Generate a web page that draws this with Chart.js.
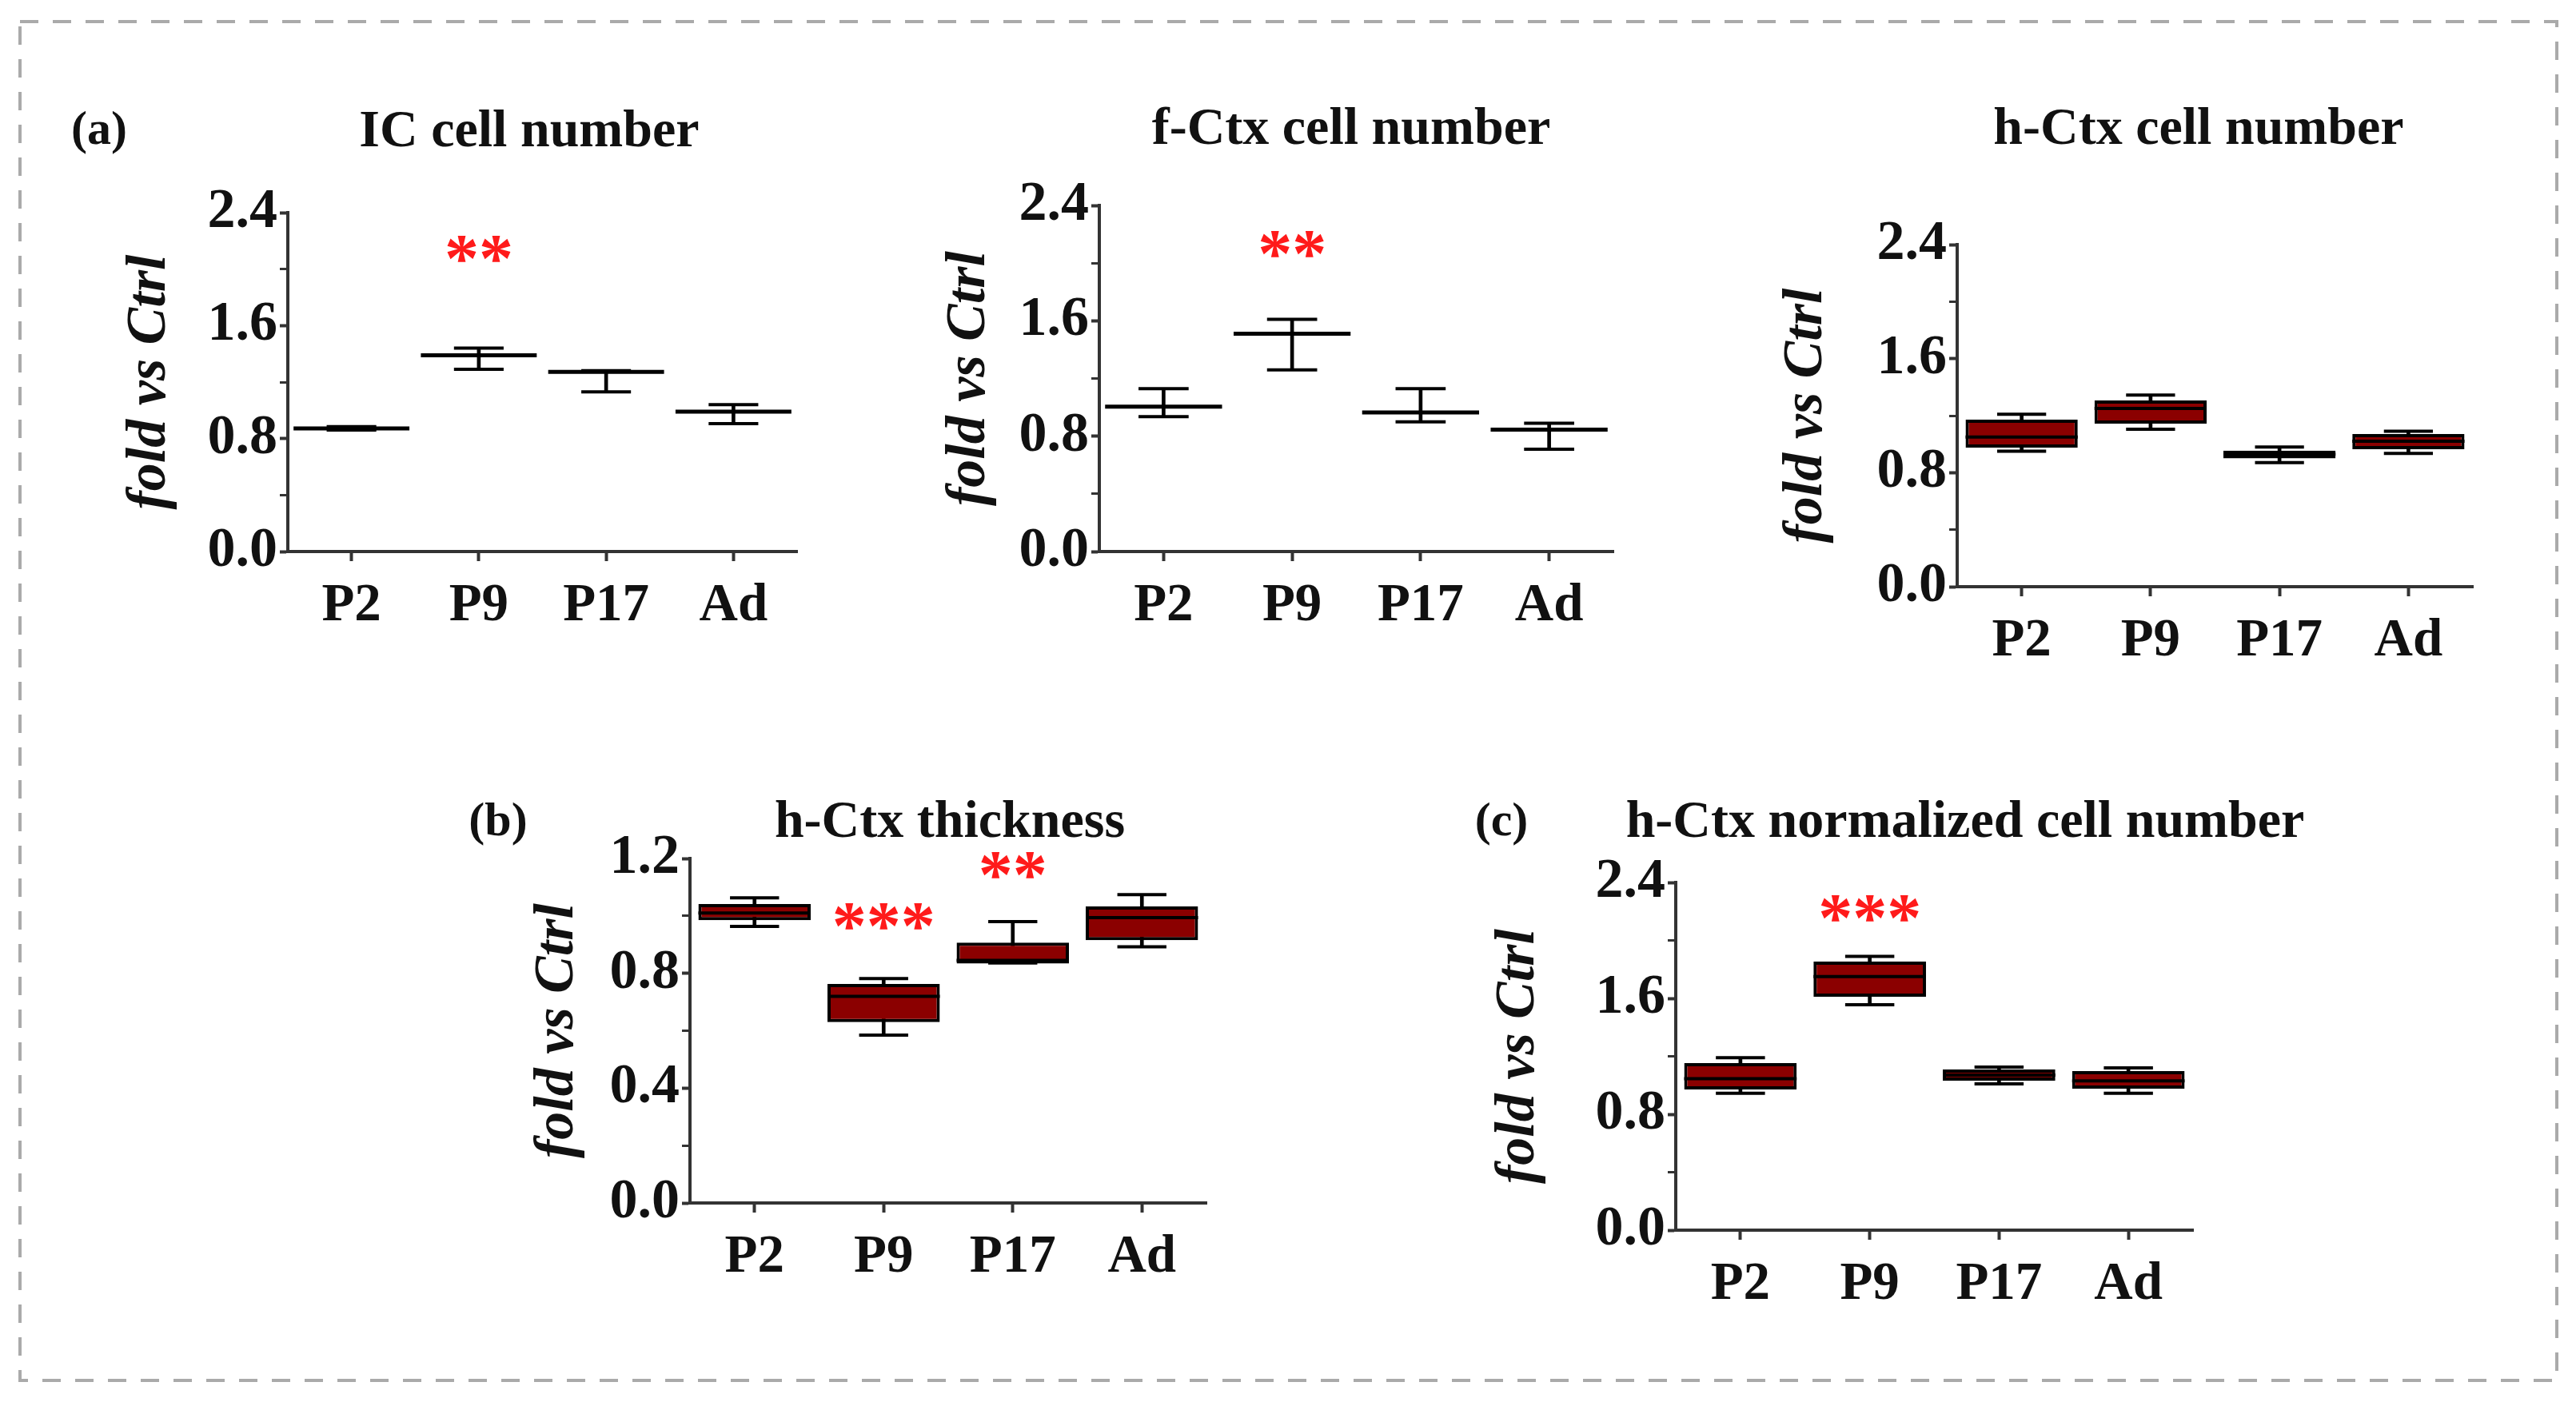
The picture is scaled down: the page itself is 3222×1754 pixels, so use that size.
<!DOCTYPE html>
<html>
<head>
<meta charset="utf-8">
<script src="https://cdn.jsdelivr.net/npm/chart.js@4.4.1/dist/chart.umd.min.js"></script>
<style>
  html, body { margin: 0; padding: 0; background: #fff; }
  body { width: 3222px; height: 1754px; position: relative; overflow: hidden;
         font-family: "Liberation Serif", "DejaVu Serif", serif; color: #111; }
  .lbl { position: absolute; transform: translate(-50%, -50%); font-weight: bold;
         white-space: nowrap; line-height: 1; }
  canvas { position: absolute; }
</style>
</head>
<body>
<svg width="3222" height="1754" style="position:absolute;left:0;top:0">
  <rect x="25" y="27" width="3173" height="1700" fill="none" stroke="#aaa" stroke-width="4" stroke-dasharray="23 18"/>
</svg>

<div class="lbl" style="left:124px;top:160px;font-size:60px">(a)</div>
<div class="lbl" style="left:662px;top:161px;font-size:66px">IC cell number</div>
<div class="lbl" style="left:1690px;top:158px;font-size:66px">f-Ctx cell number</div>
<div class="lbl" style="left:2750px;top:158px;font-size:66px">h-Ctx cell number</div>
<div class="lbl" style="left:623px;top:1025px;font-size:60px">(b)</div>
<div class="lbl" style="left:1188px;top:1025px;font-size:66px">h-Ctx thickness</div>
<div class="lbl" style="left:1878px;top:1025px;font-size:60px">(c)</div>
<div class="lbl" style="left:2458px;top:1025px;font-size:66px">h-Ctx normalized cell number</div>

<script>
const categories = ["P2", "P9", "P17", "Ad"];
const cellTickLabels = ["0.0", "0.8", "1.6", "2.4"];
const thickTickLabels = ["0.0", "0.4", "0.8", "1.2"];

// (a) IC cell number - mean with error bars
const icMean = [0.872, 1.39, 1.272, 0.99];
const icUpper = [0.885, 1.44, 1.28, 1.04];
const icLower = [0.86, 1.29, 1.13, 0.905];
const icStars = ["", "**", "", ""];
const icStarLevel = [null, 2.14, null, null];

// (a) f-Ctx cell number - mean with error bars
const fcMean = [1.005, 1.51, 0.965, 0.845];
const fcUpper = [1.13, 1.61, 1.13, 0.89];
const fcLower = [0.935, 1.26, 0.9, 0.71];
const fcStars = ["", "**", "", ""];
const fcStarLevel = [null, 2.13, null, null];

// (a) h-Ctx cell number - box plot
const hcMin = [0.95, 1.105, 0.87, 0.935];
const hcQ1 = [0.976, 1.144, 0.9, 0.965];
const hcMedian = [1.05, 1.25, 0.93, 1.02];
const hcQ3 = [1.172, 1.307, 0.955, 1.071];
const hcMax = [1.21, 1.345, 0.98, 1.09];

// (b) h-Ctx thickness - box plot
const thMin = [0.963, 0.585, 0.836, 0.892];
const thQ1 = [0.985, 0.63, 0.834, 0.915];
const thMedian = [1.01, 0.72, 0.845, 0.994];
const thQ3 = [1.041, 0.763, 0.907, 1.033];
const thMax = [1.063, 0.782, 0.98, 1.074];
const thStars = ["", "***", "**", ""];
const thStarLevel = [null, 0.997, 1.175, null];

// (c) h-Ctx normalized cell number - box plot
const ncMin = [0.945, 1.556, 1.01, 0.945];
const ncQ1 = [0.971, 1.611, 1.032, 0.977];
const ncMedian = [1.045, 1.75, 1.07, 1.03];
const ncQ3 = [1.153, 1.854, 1.109, 1.098];
const ncMax = [1.19, 1.89, 1.125, 1.12];
const ncStars = ["", "***", "", ""];
const ncStarLevel = [null, 2.22, null, null];

const FONT = '"Liberation Serif", "DejaVu Serif", serif';
const AXIS = "#333";
const BOX_RED = "#8b0000";
const TOP_PAD = 50;
const RIGHT_PAD = 20;
const X_H = 130;

// half a category width times frac, in pixels
const halfWidth = (frac) => (ctx) => {
  const a = ctx.chart.chartArea;
  return a ? ((a.right - a.left) / categories.length) * frac : 0;
};

const flatLine = (data, frac, width) => ({
  type: "line",
  data,
  showLine: false,
  pointStyle: "line",
  pointRadius: halfWidth(frac),
  pointHoverRadius: halfWidth(frac),
  pointBorderWidth: width,
  pointBorderColor: "#000",
  borderColor: "#000",
  order: 0,
});

const rangeBar = (lo, hi, extra) =>
  Object.assign(
    {
      type: "bar",
      data: lo.map((v, i) => [v, hi[i]]),
      grouped: false,
      categoryPercentage: 1,
      borderSkipped: false,
    },
    extra
  );

const starPlugin = (text, level) => ({
  id: "stars",
  afterDatasetsDraw(chart) {
    const { ctx, scales } = chart;
    ctx.save();
    ctx.fillStyle = "#ff1a1a";
    ctx.font = "bold 86px " + FONT;
    ctx.textAlign = "center";
    ctx.textBaseline = "alphabetic";
    text.forEach((t, i) => {
      if (!t) return;
      const m = ctx.measureText(t);
      const px = scales.x.getPixelForValue(i);
      const py = scales.y.getPixelForValue(level[i]);
      ctx.fillText(t, px, py + (m.actualBoundingBoxAscent - m.actualBoundingBoxDescent) / 2);
    });
    ctx.restore();
  },
});

function makePanel(area, yMax, yStep, tickLabels, datasets, stars, starLevel) {
  const yW = area.gap + 82;
  const canvas = document.createElement("canvas");
  canvas.width = yW + (area.right - area.left) + RIGHT_PAD;
  canvas.height = TOP_PAD + (area.bottom - area.top) + X_H;
  canvas.style.left = area.left - yW + "px";
  canvas.style.top = area.top - TOP_PAD + "px";
  document.body.appendChild(canvas);

  const isMajor = (v) => tickLabels.includes(Number(v).toFixed(1));

  return new Chart(canvas.getContext("2d"), {
    type: "bar",
    data: { labels: categories, datasets },
    options: {
      responsive: false,
      devicePixelRatio: 1,
      animation: false,
      events: [],
      layout: { padding: { top: TOP_PAD, right: RIGHT_PAD, left: 0, bottom: 0 } },
      plugins: { legend: { display: false }, tooltip: { enabled: false } },
      scales: {
        x: {
          offset: true,
          ticks: { color: "#111", padding: 16, maxRotation: 0, autoSkip: false,
                   font: { family: FONT, size: 67, weight: "bold" } },
          grid: { offset: false, drawOnChartArea: false, tickLength: 12, tickColor: AXIS, tickWidth: 4 },
          border: { color: AXIS, width: 4 },
          afterFit: (s) => { s.height = X_H; },
        },
        y: {
          min: 0,
          max: yMax,
          ticks: {
            stepSize: yStep,
            autoSkip: false,
            padding: 3,
            color: "#111",
            font: { family: FONT, size: 70, weight: "bold" },
            callback: (v) => (isMajor(v) ? Number(v).toFixed(1) : ""),
          },
          grid: { drawOnChartArea: false, tickLength: 10, tickColor: AXIS,
                  tickWidth: (c) => (isMajor(c.tick.value) ? 4 : 3) },
          border: { color: AXIS, width: 4 },
          title: { display: true, text: "fold vs Ctrl", color: "#111",
                   font: { family: FONT, size: 70, style: "italic", weight: "bold" },
                   padding: { top: 40, bottom: 0 } },
          afterFit: (s) => { s.width = yW; },
        },
      },
    },
    plugins: stars ? [starPlugin(stars, starLevel)] : [],
  });
}

function meanPanel(area, mean, lower, upper, stars, starLevel) {
  return makePanel(area, 2.4, 0.4, cellTickLabels, [
    flatLine(mean, 0.455, 5),
    flatLine(upper, 0.195, 4),
    flatLine(lower, 0.195, 4),
    rangeBar(lower, upper, { barThickness: 4, backgroundColor: "#000", borderWidth: 0, order: 3 }),
  ], stars, starLevel);
}

function boxPanel(area, yMax, yStep, tickLabels, min, q1, median, q3, max, stars, starLevel) {
  return makePanel(area, yMax, yStep, tickLabels, [
    flatLine(median, 0.435, 4),
    flatLine(max, 0.19, 4),
    flatLine(min, 0.19, 4),
    rangeBar(q1, q3, { barPercentage: 0.87, backgroundColor: BOX_RED, borderColor: "#000", borderWidth: 4, order: 2 }),
    rangeBar(min, max, { barThickness: 4, backgroundColor: "#000", borderWidth: 0, order: 3 }),
  ], stars, starLevel);
}

meanPanel({ left: 360, right: 997, top: 266, bottom: 690, gap: 172 },
  icMean, icLower, icUpper, icStars, icStarLevel);
meanPanel({ left: 1375, right: 2018, top: 257, bottom: 690, gap: 162 },
  fcMean, fcLower, fcUpper, fcStars, fcStarLevel);
boxPanel({ left: 2448, right: 3093, top: 306, bottom: 734, gap: 188 }, 2.4, 0.4, cellTickLabels,
  hcMin, hcQ1, hcMedian, hcQ3, hcMax, null, null);
boxPanel({ left: 863, right: 1509, top: 1074, bottom: 1505, gap: 165 }, 1.2, 0.2, thickTickLabels,
  thMin, thQ1, thMedian, thQ3, thMax, thStars, thStarLevel);
boxPanel({ left: 2096, right: 2743, top: 1104, bottom: 1539, gap: 196 }, 2.4, 0.4, cellTickLabels,
  ncMin, ncQ1, ncMedian, ncQ3, ncMax, ncStars, ncStarLevel);
</script>
</body>
</html>
